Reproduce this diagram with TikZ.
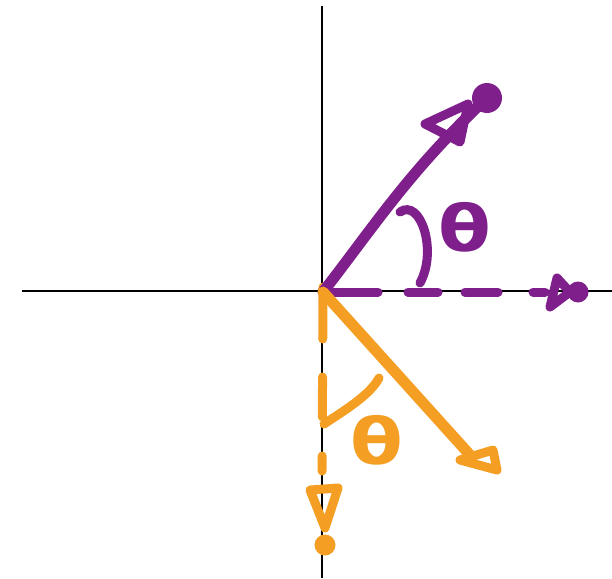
\documentclass[tikz,border=0pt]{standalone}
\usepackage{fontspec}
\newfontfamily\thetafont{DejaVu Sans}
\usepackage{tikz}
\usetikzlibrary{positioning}
\definecolor{vecpurple}{RGB}{126,31,140}
\definecolor{vecorange}{RGB}{244,158,36}
\begin{document}
\begin{tikzpicture}[x=1pt, y=-1pt, axis/.style={black, line width=2.5pt}, vec/.style={line width=11pt, line cap=round, line join=round}, proj/.style={line width=9pt, line cap=round}, tip/.style={line width=9pt, line join=round}, dot/.style={circle, fill, inner sep=0pt, minimum size=#1}, ang/.style={line width=9pt, line cap=round}, lab/.style={font=\thetafont\bfseries\fontsize{64}{64}\selectfont, inner sep=0pt}]
	\useasboundingbox (0,0) rectangle (612,578);
	\coordinate (xl) at (22,291); \coordinate (xr) at (612,291); \coordinate (yt) at (322,6); \coordinate (yb) at (322,578);
	\draw[axis] (xl) -- (xr); \draw[axis] (yt) -- (yb);
	\coordinate (O) at (323,292);
	\node[dot=30pt, vecpurple] (p) at (487,98) {}; \node[dot=21pt, vecpurple] (px) at (578,292) {};
	\node[dot=21pt, vecorange] (oy) at (325,545) {};
	\coordinate (pe) at (545,292); \coordinate (oe) at (322,487); \coordinate (o) at (470,455);
	\draw[proj, vecpurple, dash pattern=on 50pt off 30pt on 30pt off 27pt on 33pt off 35pt on 12pt off 100pt] ([xshift=5pt]O) -- (pe);
	\draw[proj, vecorange, dash pattern=on 52pt off 38pt on 40pt off 39pt on 15pt off 100pt] ([yshift=5pt]O) -- (oe);
	\draw[vec, vecpurple] (O) .. controls (375,225) and (410,170) .. (p.center);
	\draw[vec, vecorange] (O) -- (o);
	\draw[tip, vecpurple] (425,124) -- (468,104) -- (460,142) -- cycle; \draw[tip, vecpurple] (557,278) -- (570,292) -- (550,307) -- cycle;
	\draw[tip, vecorange] (460,460) -- (493,450) -- (497,470) -- cycle; \draw[tip, vecorange] (310,490) -- (338,488) -- (325,528) -- cycle;
	\coordinate (pa1) at (400,212); \coordinate (pa2) at (420,283); \coordinate (oa1) at (379,378); \coordinate (oa2) at (324,424);
	\draw[ang, vecpurple] (pa1) .. controls (420,198) and (438,250) .. (pa2);
	\draw[ang, vecorange] (oa1) .. controls (370,395) and (345,410) .. (oa2);
	\node[lab, vecpurple] (tp) at (465,227) {\scalebox{1.2}[1]{θ}}; \node[lab, vecorange] (to) at (377,440) {\scalebox{1.2}[1]{θ}};
\end{tikzpicture}
\end{document}
